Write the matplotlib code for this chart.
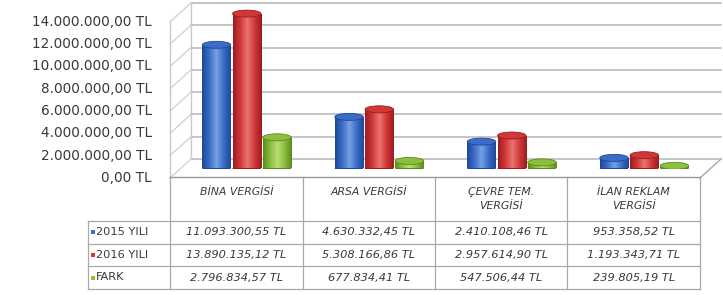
import numpy as np
import matplotlib
matplotlib.use('Agg')
import matplotlib.pyplot as plt
import matplotlib.transforms as mtransforms
from matplotlib.patches import Rectangle, Ellipse
from matplotlib.colors import LinearSegmentedColormap

categories = ['BİNA VERGİSİ', 'ARSA VERGİSİ', 'ÇEVRE TEM.\nVERGİSİ', 'İLAN REKLAM\nVERGİSİ']
series_names = ['2015 YILI', '2016 YILI', 'FARK']
y2015 = [11093300.55, 4630332.45, 2410108.46, 953358.52]
y2016 = [13890135.12, 5308166.86, 2957614.90, 1193343.71]
fark = [2796834.57, 677834.41, 547506.44, 239805.19]
yticks = [0, 2e6, 4e6, 6e6, 8e6, 10e6, 12e6, 14e6]

# dark, base, light for each series
palette = [('#1d4896', '#3a6cc8', '#7aa0e2'),
           ('#9c1c20', '#d03838', '#ea7470'),
           ('#5a8a1e', '#8cbf3c', '#bcdc78')]
text_col = '#3a3a3a'
grid_col = '#b5b5b5'


def tl(v):
    s = f"{v:,.2f}".replace(',', 'X').replace('.', ',').replace('X', '.')
    return s + ' TL'


W, H = 723, 295
fig = plt.figure(figsize=(W / 100, H / 100), dpi=100)

# main axes = middle of the fake 3d depth
mid_left, mid_base, span, ppm = 180.5, 168.5, 530.0, 11.15
ymax = 15e6
ax = fig.add_axes([mid_left / W, (H - mid_base) / H, span / W, ppm * 15 / H])
ax.set_xlim(0, 4)
ax.set_ylim(0, ymax)
ax.axis('off')


def shift(dx, dy):
    return ax.transData + mtransforms.ScaledTranslation(dx / 100, dy / 100, fig.dpi_scale_trans)


front = shift(-10.5, -9.5)
back = shift(10.5, 9.5)


def depth_line(x, y, color, lw):
    ax.annotate('', xy=(x, y), xycoords=back, xytext=(x, y), textcoords=front,
                arrowprops=dict(arrowstyle='-', color=color, lw=lw, shrinkA=0, shrinkB=0))


# back wall, side wall and floor
for v in yticks:
    ax.plot([0, 4], [v, v], color=grid_col, lw=1.1, transform=back, clip_on=False, zorder=1)
    depth_line(0, v, '#cfcfcf', 0.9)
ax.plot([0, 0], [0, yticks[-1]], color='#c8c8c8', lw=1.0, transform=front, clip_on=False)
ax.plot([0, 0], [0, yticks[-1]], color='#c8c8c8', lw=1.0, transform=back, clip_on=False)
depth_line(4, 0, '#a8a8a8', 1.0)

# y labels at the front edge
lab_tr = shift(-10.5 - 18, -9.5)
for v in yticks:
    ax.text(0, v, tl(v), transform=lab_tr, ha='right', va='center',
            fontsize=9.8, color=text_col, clip_on=False)

# cylinders
bw, step = 0.215, 0.228
cap_h = 7 / ppm * 1e6
for j, vals in enumerate([y2015, y2016, fark]):
    dark, base, light = palette[j]
    cm = LinearSegmentedColormap.from_list('c%d' % j, [dark, base, light, base, dark])
    grad = np.linspace(0, 1, 64)[np.newaxis, :]
    for i, h in enumerate(vals):
        xc = i + 0.5 + (j - 1) * step
        x0 = xc - bw / 2
        z = 3 + j * 0.01
        ax.add_patch(Ellipse((xc, 0), bw, cap_h, facecolor=dark, edgecolor='none', zorder=z))
        rect = Rectangle((x0, 0), bw, h, facecolor='none', edgecolor='none')
        ax.add_patch(rect)
        im = ax.imshow(grad, extent=(x0, x0 + bw, 0, h), aspect='auto', cmap=cm,
                       interpolation='bicubic', zorder=z + 0.001)
        im.set_clip_path(rect)
        ax.add_patch(Ellipse((xc, h), bw, cap_h, facecolor=base, edgecolor=dark,
                             lw=0.6, zorder=z + 0.002))
ax.set_xlim(0, 4)
ax.set_ylim(0, ymax)

# data table under the chart, columns follow the category axis
t_top, t_bot = 177.0, 289.0
rows = [177.0, 221.0, 243.5, 266.0, 289.0]
tab = fig.add_axes([(mid_left - 10.5) / W, (H - t_bot) / H, span / W, (t_bot - t_top) / H])
tab.set_xlim(0, 4)
tab.set_ylim(t_bot, t_top)
tab.axis('off')
lab_x = -(170 - 88) / 132.5
lc = '#a8a8a8'
for i in range(5):
    tab.plot([i, i], [rows[0], rows[-1]], color=lc, lw=0.9, clip_on=False)
tab.plot([lab_x, lab_x], [rows[1], rows[-1]], color=lc, lw=0.9, clip_on=False)
tab.plot([0, 4], [rows[0], rows[0]], color='#999999', lw=1.0, clip_on=False)
for r in rows[1:]:
    tab.plot([lab_x, 4], [r, r], color=lc, lw=0.9, clip_on=False)

for i, c in enumerate(categories):
    tab.text(i + 0.5, rows[0] + 10, c, ha='center', va='top', fontsize=7.8,
             style='italic', color=text_col, linespacing=1.45)

sq_w = 4 / 132.5
for k, vals in enumerate([y2015, y2016, fark]):
    yc = (rows[k + 1] + rows[k + 2]) / 2
    tab.add_patch(Rectangle((lab_x + 3 / 132.5, yc - 2), sq_w, 4,
                            facecolor=palette[k][1], edgecolor='none', clip_on=False))
    tab.text(lab_x + 8 / 132.5, yc, series_names[k], color=text_col, fontsize=8.2,
             ha='left', va='center', clip_on=False)
    for i, v in enumerate(vals):
        tab.text(i + 0.5, yc, tl(v), ha='center', va='center', fontsize=8.2,
                 style='italic', color=text_col)

fig.savefig('out.png', dpi=100, facecolor='white')
